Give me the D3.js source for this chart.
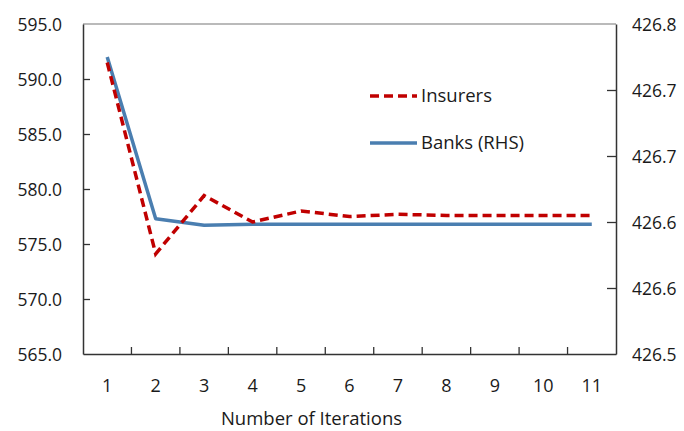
<!DOCTYPE html>
<html>
<head>
<meta charset="utf-8">
<script src="https://cdn.jsdelivr.net/npm/d3@7"></script>
<style>
  html, body { margin: 0; padding: 0; background: #fff; }
  svg { display: block; }
  text { font-family: "Open Sans", "Noto Sans", sans-serif; fill: #1a1a1a; }
</style>
</head>
<body>
<svg id="chart" width="684" height="431"></svg>
<script>
// Iteration numbers along the x axis
const iterations = [1, 2, 3, 4, 5, 6, 7, 8, 9, 10, 11];
// Insurers (left axis)
const insurers = [591.5, 574.1, 579.4, 577.0, 578.0, 577.5, 577.7, 577.6, 577.6, 577.6, 577.6];
// Banks (right axis)
const banks = [426.770, 426.623, 426.617, 426.618, 426.618, 426.618, 426.618, 426.618, 426.618, 426.618, 426.618];
// Axis ticks
const leftTicks = [565, 570, 575, 580, 585, 590, 595];
const rightTicks = [426.50, 426.56, 426.62, 426.68, 426.74, 426.80];

const svg = d3.select("#chart");
const margin = { left: 83, right: 68, top: 24, bottom: 77 };
const W = 684, H = 431;
const x0 = margin.left, x1 = W - margin.right;
const y0 = margin.top, y1 = H - margin.bottom;

const x = d3.scaleBand().domain(iterations).range([x0, x1]).padding(0);
const yL = d3.scaleLinear().domain([565, 595]).range([y1, y0]);
const yR = d3.scaleLinear().domain([426.5, 426.8]).range([y1, y0]);

const axisColor = "#333";
const fontStack = '"Open Sans", "Noto Sans", sans-serif';

// frame (top border)
svg.append("line")
  .attr("x1", x0).attr("x2", x1).attr("y1", y0).attr("y2", y0)
  .attr("stroke", "#777").attr("stroke-width", 1.2);

// left axis
const gL = svg.append("g").attr("transform", `translate(${x0},0)`)
  .call(d3.axisLeft(yL).tickValues(leftTicks).tickFormat(d3.format(".1f")).tickSizeInner(-7).tickSizeOuter(0).tickPadding(21));
// right axis
const gR = svg.append("g").attr("transform", `translate(${x1},0)`)
  .call(d3.axisRight(yR).tickValues(rightTicks).tickFormat(d3.format(".1f")).tickSizeInner(-9).tickSizeOuter(0).tickPadding(16));
// bottom axis: ticks sit at band boundaries, labels at band centres
const gB = svg.append("g").attr("transform", `translate(0,${y1})`)
  .call(d3.axisBottom(x).tickSize(0).tickPadding(25));

[gL, gR, gB].forEach(g => {
  g.select(".domain").attr("stroke", axisColor).attr("stroke-width", 1.5);
  g.selectAll(".tick line").attr("stroke", axisColor).attr("stroke-width", 1.3);
  g.selectAll("text").style("font-family", fontStack)
    .style("font-size", "17.5px").attr("fill", "#1a1a1a");
});
gB.selectAll("text").style("font-size", "18px");
gL.selectAll(".tick").filter(d => d === 565 || d === 595).select("line").remove();
gR.selectAll(".tick").filter(d => d === 426.5 || d === 426.8).select("line").remove();
gL.selectAll(".tick text").attr("dy", "0.35em");
gR.selectAll(".tick text").attr("dy", "0.35em");

// bottom tick marks between categories
svg.append("g").selectAll("line")
  .data(iterations.slice(1))
  .join("line")
  .attr("x1", d => x(d)).attr("x2", d => x(d))
  .attr("y1", y1).attr("y2", y1 - 7)
  .attr("stroke", axisColor).attr("stroke-width", 1.3);

// axis title
svg.append("text")
  .attr("x", (x0 + x1) / 2 - 38).attr("y", 425)
  .attr("text-anchor", "middle")
  .style("font-size", "18.5px")
  .text("Number of Iterations");

const cx = d => x(d) + x.bandwidth() / 2;

// Banks line (RHS)
svg.append("path")
  .datum(iterations)
  .attr("fill", "none")
  .attr("stroke", "#4A7EB0")
  .attr("stroke-width", 3.5)
  .attr("stroke-linejoin", "round")
  .attr("d", d3.line().x(d => cx(d)).y((d, i) => yR(banks[i])));

// Insurers line (LHS)
svg.append("path")
  .datum(iterations)
  .attr("fill", "none")
  .attr("stroke", "#C00000")
  .attr("stroke-width", 3.5)
  .attr("stroke-dasharray", "9,5")
  .attr("d", d3.line().x(d => cx(d)).y((d, i) => yL(insurers[i])));

// legend
const legend = [
  { label: "Insurers", color: "#C00000", dash: "9,5", y: 96 },
  { label: "Banks (RHS)", color: "#4A7EB0", dash: null, y: 143 }
];
const lg = svg.append("g");
legend.forEach(l => {
  lg.append("line")
    .attr("x1", 370).attr("x2", 417).attr("y1", l.y).attr("y2", l.y)
    .attr("stroke", l.color).attr("stroke-width", 3.5)
    .attr("stroke-dasharray", l.dash);
  lg.append("text")
    .attr("x", 421).attr("y", l.y).attr("dy", "0.35em")
    .style("font-size", "18.5px")
    .text(l.label);
});
</script>
</body>
</html>
